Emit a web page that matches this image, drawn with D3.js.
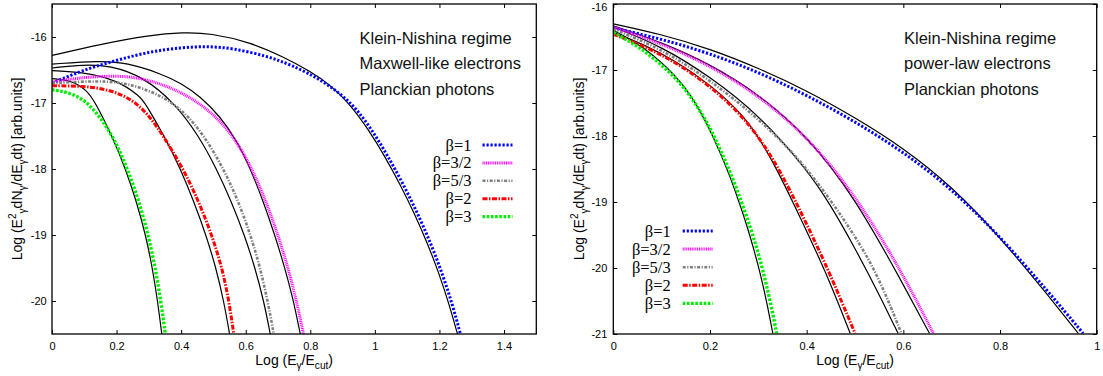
<!DOCTYPE html>
<html>
<head>
<meta charset="utf-8">
<script src="https://cdn.jsdelivr.net/npm/d3@7"></script>
<style>
  body { margin: 0; background: #fff; }
  svg { display: block; }
</style>
</head>
<body>
<svg id="chart" width="1103" height="376"></svg>
<script>
// ---------------- data ----------------
const betaLabels = ["β=1", "β=3/2", "β=5/3", "β=2", "β=3"];

const maxwellXTicks = [0, 0.2, 0.4, 0.6, 0.8, 1, 1.2, 1.4];
const maxwellYTicks = [-16, -17, -18, -19, -20];
const powerXTicks = [0, 0.2, 0.4, 0.6, 0.8, 1];
const powerYTicks = [-16, -17, -18, -19, -20, -21];

const maxwellNotes = ["Klein-Nishina regime", "Maxwell-like electrons", "Planckian photons"];
const powerNotes = ["Klein-Nishina regime", "power-law electrons", "Planckian photons"];

// Maxwell-like electrons: [log(E/Ecut), log(E^2 dN/dE dt)]
const maxwellB1 = [[0,-16.70],[0.096,-16.50],[0.201,-16.35],[0.304,-16.22],[0.40,-16.16],[0.48,-16.14],[0.561,-16.17],[0.666,-16.29],[0.74,-16.42],[0.84,-16.66],[0.93,-17.00],[0.99,-17.40],[1.04,-17.80],[1.09,-18.25],[1.135,-18.70],[1.175,-19.15],[1.21,-19.60],[1.24,-20.05],[1.265,-20.50]];
const maxwellB32 = [[0,-16.68],[0.096,-16.61],[0.18,-16.59],[0.251,-16.60],[0.335,-16.70],[0.428,-16.90],[0.511,-17.21],[0.573,-17.58],[0.625,-18.05],[0.665,-18.52],[0.70,-19.00],[0.73,-19.48],[0.755,-19.95],[0.779,-20.50]];
const maxwellB53 = [[0,-16.70],[0.149,-16.66],[0.232,-16.70],[0.325,-16.85],[0.407,-17.11],[0.472,-17.50],[0.532,-18.00],[0.578,-18.50],[0.615,-19.00],[0.645,-19.50],[0.668,-20.00],[0.687,-20.50]];
const maxwellB2 = [[0,-16.74],[0.096,-16.74],[0.18,-16.80],[0.251,-16.95],[0.304,-17.21],[0.345,-17.50],[0.407,-18.00],[0.455,-18.50],[0.495,-19.00],[0.527,-19.50],[0.548,-20.00],[0.563,-20.50]];
const maxwellB3 = [[0,-16.80],[0.056,-16.84],[0.118,-17.00],[0.19,-17.50],[0.234,-18.00],[0.27,-18.50],[0.298,-19.00],[0.32,-19.50],[0.337,-20.00],[0.351,-20.50]];

// Maxwell-like electrons: analytic approximations (solid black)
const maxwellFitB1 = [[0,-16.28],[0.149,-16.11],[0.304,-15.97],[0.406,-15.93],[0.49,-15.94],[0.614,-16.08],[0.716,-16.30],[0.80,-16.52],[0.86,-16.72],[0.92,-17.00],[0.98,-17.40],[1.03,-17.80],[1.08,-18.25],[1.125,-18.70],[1.165,-19.15],[1.20,-19.60],[1.23,-20.05],[1.256,-20.50]];
const maxwellFitB32 = [[0,-16.41],[0.149,-16.36],[0.232,-16.39],[0.335,-16.55],[0.40,-16.70],[0.459,-16.90],[0.52,-17.20],[0.57,-17.55],[0.615,-18.00],[0.655,-18.50],[0.69,-19.00],[0.72,-19.48],[0.746,-19.95],[0.769,-20.50]];
const maxwellFitB53 = [[0,-16.47],[0.096,-16.42],[0.18,-16.43],[0.282,-16.60],[0.38,-17.00],[0.455,-17.50],[0.51,-18.00],[0.556,-18.50],[0.596,-19.00],[0.629,-19.50],[0.656,-20.00],[0.676,-20.50]];
const maxwellFitB2 = [[0,-16.51],[0.096,-16.53],[0.201,-16.65],[0.273,-16.90],[0.288,-17.00],[0.348,-17.50],[0.398,-18.00],[0.44,-18.50],[0.477,-19.00],[0.508,-19.50],[0.532,-20.00],[0.55,-20.50]];
const maxwellFitB3 = [[0,-16.63],[0.056,-16.65],[0.108,-16.80],[0.135,-17.00],[0.186,-17.50],[0.228,-18.00],[0.262,-18.50],[0.29,-19.00],[0.311,-19.50],[0.327,-20.00],[0.340,-20.50]];

// Power-law electrons
const powerB1 = [[0,-16.36],[0.1,-16.53],[0.2,-16.75],[0.3,-17.03],[0.4,-17.38],[0.5,-17.78],[0.6,-18.24],[0.7,-18.80],[0.8,-19.52],[0.9,-20.36],[0.972,-20.99]];
const powerB32 = [[0,-16.35],[0.1,-16.60],[0.2,-16.93],[0.3,-17.38],[0.4,-18.00],[0.5,-18.88],[0.6,-20.10],[0.662,-20.99]];
const powerB53 = [[0,-16.38],[0.1,-16.68],[0.2,-17.15],[0.3,-17.73],[0.4,-18.45],[0.5,-19.50],[0.55,-20.15],[0.596,-20.99]];
const powerB2 = [[0,-16.46],[0.062,-16.63],[0.131,-16.89],[0.2,-17.24],[0.269,-17.70],[0.331,-18.32],[0.393,-19.22],[0.448,-20.08],[0.5,-20.99]];
const powerB3 = [[0,-16.43],[0.062,-16.68],[0.131,-17.12],[0.165,-17.45],[0.195,-17.80],[0.221,-18.20],[0.245,-18.60],[0.265,-19.00],[0.283,-19.37],[0.297,-19.70],[0.31,-20.05],[0.324,-20.48],[0.338,-20.99]];

// Power-law electrons: analytic approximations (solid black)
const powerFitB1 = [[0,-16.30],[0.1,-16.46],[0.2,-16.68],[0.3,-16.97],[0.4,-17.31],[0.5,-17.72],[0.6,-18.18],[0.7,-18.76],[0.8,-19.53],[0.9,-20.42],[0.962,-20.99]];
const powerFitB32 = [[0,-16.33],[0.1,-16.58],[0.2,-16.91],[0.3,-17.36],[0.4,-17.99],[0.5,-18.93],[0.6,-20.25],[0.654,-20.99]];
const powerFitB53 = [[0,-16.35],[0.1,-16.64],[0.2,-17.10],[0.3,-17.67],[0.4,-18.50],[0.45,-19.05],[0.5,-19.70],[0.55,-20.40],[0.589,-20.99]];
const powerFitB2 = [[0,-16.43],[0.062,-16.61],[0.131,-16.87],[0.2,-17.22],[0.269,-17.67],[0.324,-18.28],[0.386,-19.22],[0.441,-20.08],[0.49,-20.99]];
const powerFitB3 = [[0,-16.40],[0.062,-16.64],[0.131,-17.09],[0.165,-17.43],[0.193,-17.80],[0.218,-18.20],[0.241,-18.60],[0.26,-19.00],[0.277,-19.37],[0.29,-19.70],[0.303,-20.05],[0.317,-20.50],[0.33,-20.99]];

// ---------------- styles ----------------
const seriesStyles = [
  { color: "#0000ff", width: 3,   dash: "2.2,1.8" },
  { color: "#ff00ff", width: 3,   dash: "1,0.8" },
  { color: "#808080", width: 2.6, dash: "3,1.5,1.2,1.5" },
  { color: "#ff0000", width: 3,   dash: "5,1.5,1.5,1.5" },
  { color: "#00ee00", width: 3.4, dash: "2.6,1.6" }
];
const sansFont = "'Liberation Sans', Arial, Helvetica, sans-serif";
const serifFont = "'Liberation Serif', 'Times New Roman', serif";

const panels = [
  {
    id: "maxwell",
    left: 52, right: 536.3, top: 4, bottom: 334,
    xDomain: [0, 1.5], yDomain: [-20.5, -15.5],
    xTicks: maxwellXTicks, yTicks: maxwellYTicks,
    series: [maxwellB1, maxwellB32, maxwellB53, maxwellB2, maxwellB3],
    fits: [maxwellFitB1, maxwellFitB32, maxwellFitB53, maxwellFitB2, maxwellFitB3],
    notes: maxwellNotes, noteX: 359.5, noteY: 43.5,
    legend: { labelRight: 471.5, lineX0: 482.5, lineX1: 512.5, y0: 145, dy: 17.9 },
    yLabelX: 22, yTickPad: 5.3
  },
  {
    id: "power",
    left: 613.3, right: 1096.7, top: 4, bottom: 334,
    xDomain: [0, 1], yDomain: [-21, -16],
    xTicks: powerXTicks, yTicks: powerYTicks,
    series: [powerB1, powerB32, powerB53, powerB2, powerB3],
    fits: [powerFitB1, powerFitB32, powerFitB53, powerFitB2, powerFitB3],
    notes: powerNotes, noteX: 904, noteY: 43.5,
    legend: { labelRight: 670.7, lineX0: 682.7, lineX1: 712.7, y0: 231, dy: 18.1 },
    yLabelX: 584, yTickPad: 6
  }
];

// Writes a run of text pieces with sub/superscripts into an SVG text node.
function richText(textSel, parts, baseSize) {
  let offset = 0;
  parts.forEach(p => {
    const target = p.sup ? -0.42 * baseSize : p.sub ? 0.3 * baseSize : 0;
    textSel.append("tspan")
      .attr("dy", target - offset)
      .attr("font-size", p.sup || p.sub ? baseSize * 0.72 : baseSize)
      .text(p.t);
    offset = target;
  });
}

const svg = d3.select("#chart");

panels.forEach(cfg => {
  const g = svg.append("g").attr("class", cfg.id);
  const x = d3.scaleLinear().domain(cfg.xDomain).range([cfg.left, cfg.right]);
  const y = d3.scaleLinear().domain(cfg.yDomain).range([cfg.bottom, cfg.top]);

  g.append("clipPath").attr("id", "clip-" + cfg.id)
    .append("rect")
    .attr("x", cfg.left).attr("y", cfg.top)
    .attr("width", cfg.right - cfg.left).attr("height", cfg.bottom - cfg.top);

  const line = d3.line()
    .x(d => x(d[0]))
    .y(d => y(d[1]))
    .curve(d3.curveBasis);

  const plot = g.append("g").attr("clip-path", `url(#clip-${cfg.id})`);

  // analytic approximations
  plot.selectAll("path.fit").data(cfg.fits).join("path")
    .attr("class", "fit")
    .attr("d", line)
    .attr("fill", "none")
    .attr("stroke", "#000")
    .attr("stroke-width", 1.2);

  // computed spectra
  plot.selectAll("path.series").data(cfg.series).join("path")
    .attr("class", "series")
    .attr("d", line)
    .attr("fill", "none")
    .attr("stroke", (d, i) => seriesStyles[i].color)
    .attr("stroke-width", (d, i) => seriesStyles[i].width)
    .attr("stroke-dasharray", (d, i) => seriesStyles[i].dash);

  // axes with inward ticks on all four sides
  const fmt = d => String(d);
  const axes = [
    { axis: d3.axisBottom(x).tickValues(cfg.xTicks).tickFormat(fmt).tickPadding(8), tr: `translate(0,${cfg.bottom})` },
    { axis: d3.axisTop(x).tickValues(cfg.xTicks).tickFormat(""), tr: `translate(0,${cfg.top})` },
    { axis: d3.axisLeft(y).tickValues(cfg.yTicks).tickFormat(fmt).tickPadding(cfg.yTickPad), tr: `translate(${cfg.left},0)` },
    { axis: d3.axisRight(y).tickValues(cfg.yTicks).tickFormat(""), tr: `translate(${cfg.right},0)` }
  ];
  axes.forEach(a => {
    const ag = g.append("g").attr("transform", a.tr)
      .call(a.axis.tickSizeInner(-4).tickSizeOuter(0));
    ag.select(".domain").remove();
    ag.selectAll("line").attr("stroke", "#000").attr("stroke-width", 1);
    ag.selectAll("text")
      .attr("font-family", sansFont)
      .attr("font-size", 11)
      .attr("fill", "#000");
  });

  // keep a tick label sitting on the top edge inside the canvas
  g.selectAll(".tick")
    .filter(d => cfg.yTicks.includes(d) && y(d) < 8)
    .select("text")
    .attr("dy", "0.55em");

  // frame
  g.append("rect")
    .attr("x", cfg.left).attr("y", cfg.top)
    .attr("width", cfg.right - cfg.left).attr("height", cfg.bottom - cfg.top)
    .attr("fill", "none").attr("stroke", "#000").attr("stroke-width", 1.3);

  // axis titles
  const xt = g.append("text")
    .attr("x", (cfg.left + cfg.right) / 2).attr("y", 365)
    .attr("text-anchor", "middle")
    .attr("font-family", sansFont).attr("font-size", 14).attr("fill", "#000");
  richText(xt, [
    { t: "Log (E" }, { t: "γ", sub: true }, { t: "/E" }, { t: "cut", sub: true }, { t: ")" }
  ], 14);

  const yt = g.append("text")
    .attr("transform", `translate(${cfg.yLabelX},${(cfg.top + cfg.bottom) / 2}) rotate(-90)`)
    .attr("text-anchor", "middle")
    .attr("font-family", sansFont).attr("font-size", 14).attr("fill", "#000");
  richText(yt, [
    { t: "Log (E" }, { t: "2", sup: true }, { t: "γ", sub: true }, { t: "dN" },
    { t: "γ", sub: true }, { t: "/dE" }, { t: "γ", sub: true }, { t: "dt) [arb.units]" }
  ], 14);

  // annotations
  g.selectAll("text.note").data(cfg.notes).join("text")
    .attr("class", "note")
    .attr("x", cfg.noteX)
    .attr("y", (d, i) => cfg.noteY + i * 25.8)
    .attr("font-family", sansFont).attr("font-size", 16.5).attr("fill", "#111")
    .text(d => d);

  // legend
  const lg = cfg.legend;
  const rows = g.selectAll("g.legend-row").data(betaLabels).join("g")
    .attr("class", "legend-row")
    .attr("transform", (d, i) => `translate(0,${lg.y0 + i * lg.dy})`);
  rows.append("text")
    .attr("x", lg.labelRight).attr("y", 5.5)
    .attr("text-anchor", "end")
    .attr("font-family", serifFont).attr("font-size", 16.5).attr("fill", "#000")
    .text(d => d);
  rows.append("line")
    .attr("x1", lg.lineX0).attr("x2", lg.lineX1).attr("y1", 0).attr("y2", 0)
    .attr("stroke", (d, i) => seriesStyles[i].color)
    .attr("stroke-width", (d, i) => seriesStyles[i].width)
    .attr("stroke-dasharray", (d, i) => seriesStyles[i].dash);
});
</script>
</body>
</html>
